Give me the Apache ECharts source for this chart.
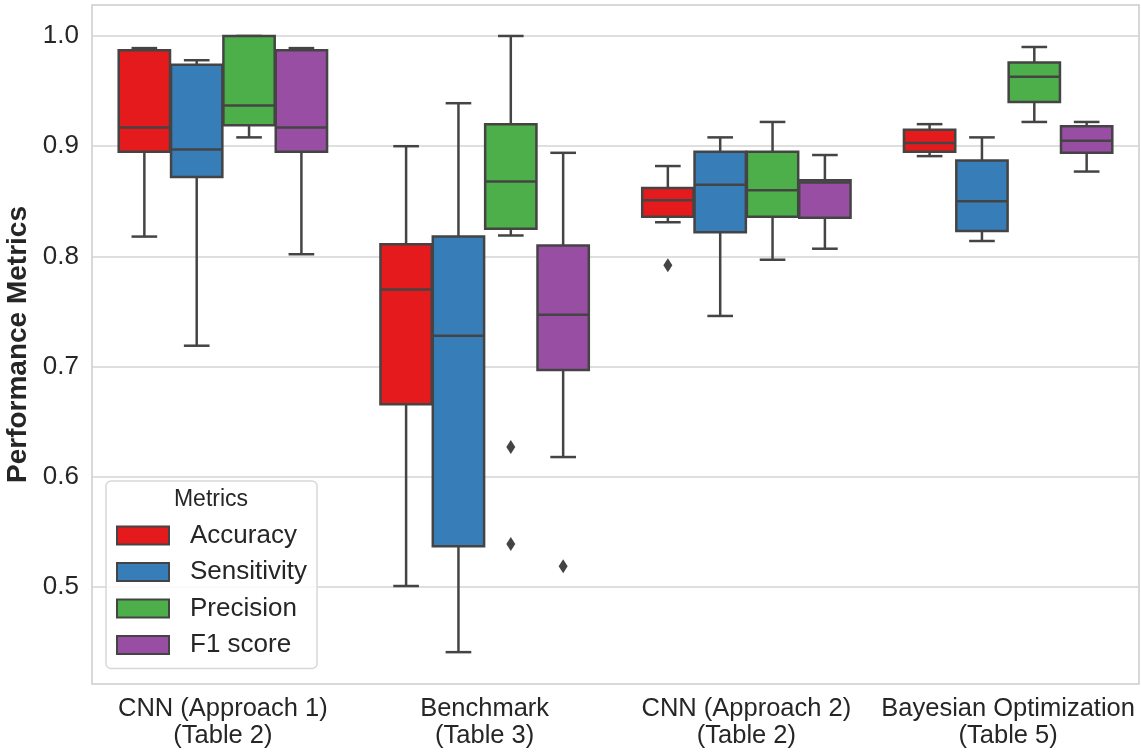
<!DOCTYPE html>
<html>
<head>
<meta charset="utf-8">
<script src="https://cdn.jsdelivr.net/npm/echarts@6/dist/echarts.min.js"></script>
<style>
html, body { margin: 0; padding: 0; background: #fff; }
#main { width: 1141px; height: 754px; }
</style>
</head>
<body>
<div id="main"></div>
<script>
var categories = [
    'CNN (Approach 1)\n(Table 2)',
    'Benchmark\n(Table 3)',
    'CNN (Approach 2)\n(Table 2)',
    'Bayesian Optimization\n(Table 5)'
];
var metricNames = ['Accuracy', 'Sensitivity', 'Precision', 'F1 score'];
var metricColors = ['#e41a1c', '#377eb8', '#4daf4a', '#984ea3'];

// [min, q1, median, q3, max] for each category
var accuracy = [
    [0.818, 0.895, 0.917, 0.987, 0.989],
    [0.501, 0.666, 0.770, 0.811, 0.900],
    [0.831, 0.836, 0.851, 0.862, 0.882],
    [0.891, 0.895, 0.903, 0.915, 0.920]
];
var sensitivity = [
    [0.719, 0.872, 0.897, 0.974, 0.978],
    [0.441, 0.537, 0.728, 0.818, 0.939],
    [0.746, 0.822, 0.865, 0.895, 0.908],
    [0.814, 0.823, 0.850, 0.887, 0.908]
];
var precision = [
    [0.908, 0.919, 0.937, 1.000, 1.000],
    [0.819, 0.825, 0.868, 0.920, 1.000],
    [0.797, 0.836, 0.860, 0.895, 0.922],
    [0.922, 0.940, 0.963, 0.976, 0.990]
];
var f1score = [
    [0.802, 0.895, 0.917, 0.987, 0.989],
    [0.618, 0.697, 0.747, 0.810, 0.894],
    [0.807, 0.835, 0.867, 0.869, 0.892],
    [0.877, 0.894, 0.905, 0.918, 0.922]
];
// outliers: [category index, value, metric index]
var outliers = [
    [2, 0.792, 0],
    [1, 0.627, 2],
    [1, 0.539, 2],
    [1, 0.519, 3]
];
var yTicks = [0.5, 0.6, 0.7, 0.8, 0.9, 1.0];

var edge = '#444';
var textColor = '#262626';
var font = 'Liberation Sans, Arial, sans-serif';

function boxItems(stats) {
    return stats.map(function (s, i) { return [i].concat(s); });
}

function renderBox(params, api) {
    var k = params.seriesIndex;
    var cat = api.value(0);
    var band = api.size([1, 0])[0];
    var w = band * 0.2 * 0.98;
    var cx = api.coord([cat, 1])[0] + (k - 1.5) * band * 0.2;
    var y = [1, 2, 3, 4, 5].map(function (d) { return api.coord([cat, api.value(d)])[1]; });
    var line = { stroke: edge, lineWidth: 2.5 };
    var cap = w * 0.25;
    return {
        type: 'group',
        children: [
            { type: 'line', shape: { x1: cx, y1: y[0], x2: cx, y2: y[1] }, style: line },
            { type: 'line', shape: { x1: cx, y1: y[3], x2: cx, y2: y[4] }, style: line },
            { type: 'line', shape: { x1: cx - cap, y1: y[0], x2: cx + cap, y2: y[0] }, style: line },
            { type: 'line', shape: { x1: cx - cap, y1: y[4], x2: cx + cap, y2: y[4] }, style: line },
            { type: 'rect', shape: { x: cx - w / 2, y: y[3], width: w, height: y[1] - y[3] },
              style: { fill: metricColors[k], stroke: edge, lineWidth: 2.5 } },
            { type: 'line', shape: { x1: cx - w / 2, y1: y[2], x2: cx + w / 2, y2: y[2] }, style: line }
        ]
    };
}

function renderOutlier(params, api) {
    var cat = api.value(0);
    var k = api.value(2);
    var band = api.size([1, 0])[0];
    var p = api.coord([cat, api.value(1)]);
    var cx = p[0] + (k - 1.5) * band * 0.2;
    var cy = p[1];
    return {
        type: 'polygon',
        shape: { points: [[cx, cy - 7], [cx + 4.5, cy], [cx, cy + 7], [cx - 4.5, cy]] },
        style: { fill: edge }
    };
}

var allStats = [accuracy, sensitivity, precision, f1score];
var series = allStats.map(function (stats, k) {
    return {
        name: metricNames[k],
        type: 'custom',
        renderItem: renderBox,
        itemStyle: { color: metricColors[k], borderColor: edge, borderWidth: 1.5 },
        encode: { x: 0, y: [1, 2, 3, 4, 5] },
        data: boxItems(stats)
    };
});
series.push({
    name: 'outliers',
    type: 'custom',
    renderItem: renderOutlier,
    encode: { x: 0, y: 1 },
    data: outliers
});

var myChart = echarts.init(document.getElementById('main'));
var option = {
    animation: false,
    textStyle: { fontFamily: font },
    grid: {
        left: 92, right: 2, top: 5, bottom: 70,
        outerBoundsMode: 'none',
        containLabel: false,
        show: true, borderColor: '#cccccc', borderWidth: 1.5
    },
    xAxis: {
        type: 'category',
        data: categories,
        axisLine: { show: false },
        axisTick: { show: false },
        axisLabel: {
            color: textColor, fontSize: 25.5, lineHeight: 27, margin: 11,
            interval: 0, fontFamily: font
        }
    },
    yAxis: {
        type: 'value',
        min: 0.4121,
        max: 1.0281,
        name: 'Performance Metrics',
        nameLocation: 'middle',
        nameGap: 58,
        nameTextStyle: { color: textColor, fontSize: 28, fontWeight: 'bold', fontFamily: font },
        axisLine: { show: false },
        axisTick: { show: false, customValues: yTicks },
        axisLabel: {
            customValues: yTicks,
            color: textColor, fontSize: 26, margin: 13, fontFamily: font,
            formatter: function (v) { return v.toFixed(1); }
        },
        splitLine: { lineStyle: { color: '#d5d5d5', width: 1.5 } }
    },
    legend: {
        data: metricNames,
        orient: 'vertical',
        left: 106,
        top: 481,
        icon: 'rect',
        itemWidth: 52,
        itemHeight: 18,
        itemGap: 9.5,
        selectedMode: false,
        padding: [41, 10, 10, 10],
        borderColor: '#d8d8d8',
        borderWidth: 1.5,
        borderRadius: 5,
        backgroundColor: 'rgba(255,255,255,0.85)',
        textStyle: {
            color: textColor, fontSize: 26, lineHeight: 27,
            padding: [0, 0, 0, 16], fontFamily: font
        }
    },
    graphic: [{
        type: 'text',
        z: 100,
        x: 211,
        y: 500,
        style: {
            text: 'Metrics', fill: textColor, font: '23px ' + font,
            textAlign: 'center', textVerticalAlign: 'middle'
        }
    }],
    series: series
};
myChart.setOption(option);
</script>
</body>
</html>
